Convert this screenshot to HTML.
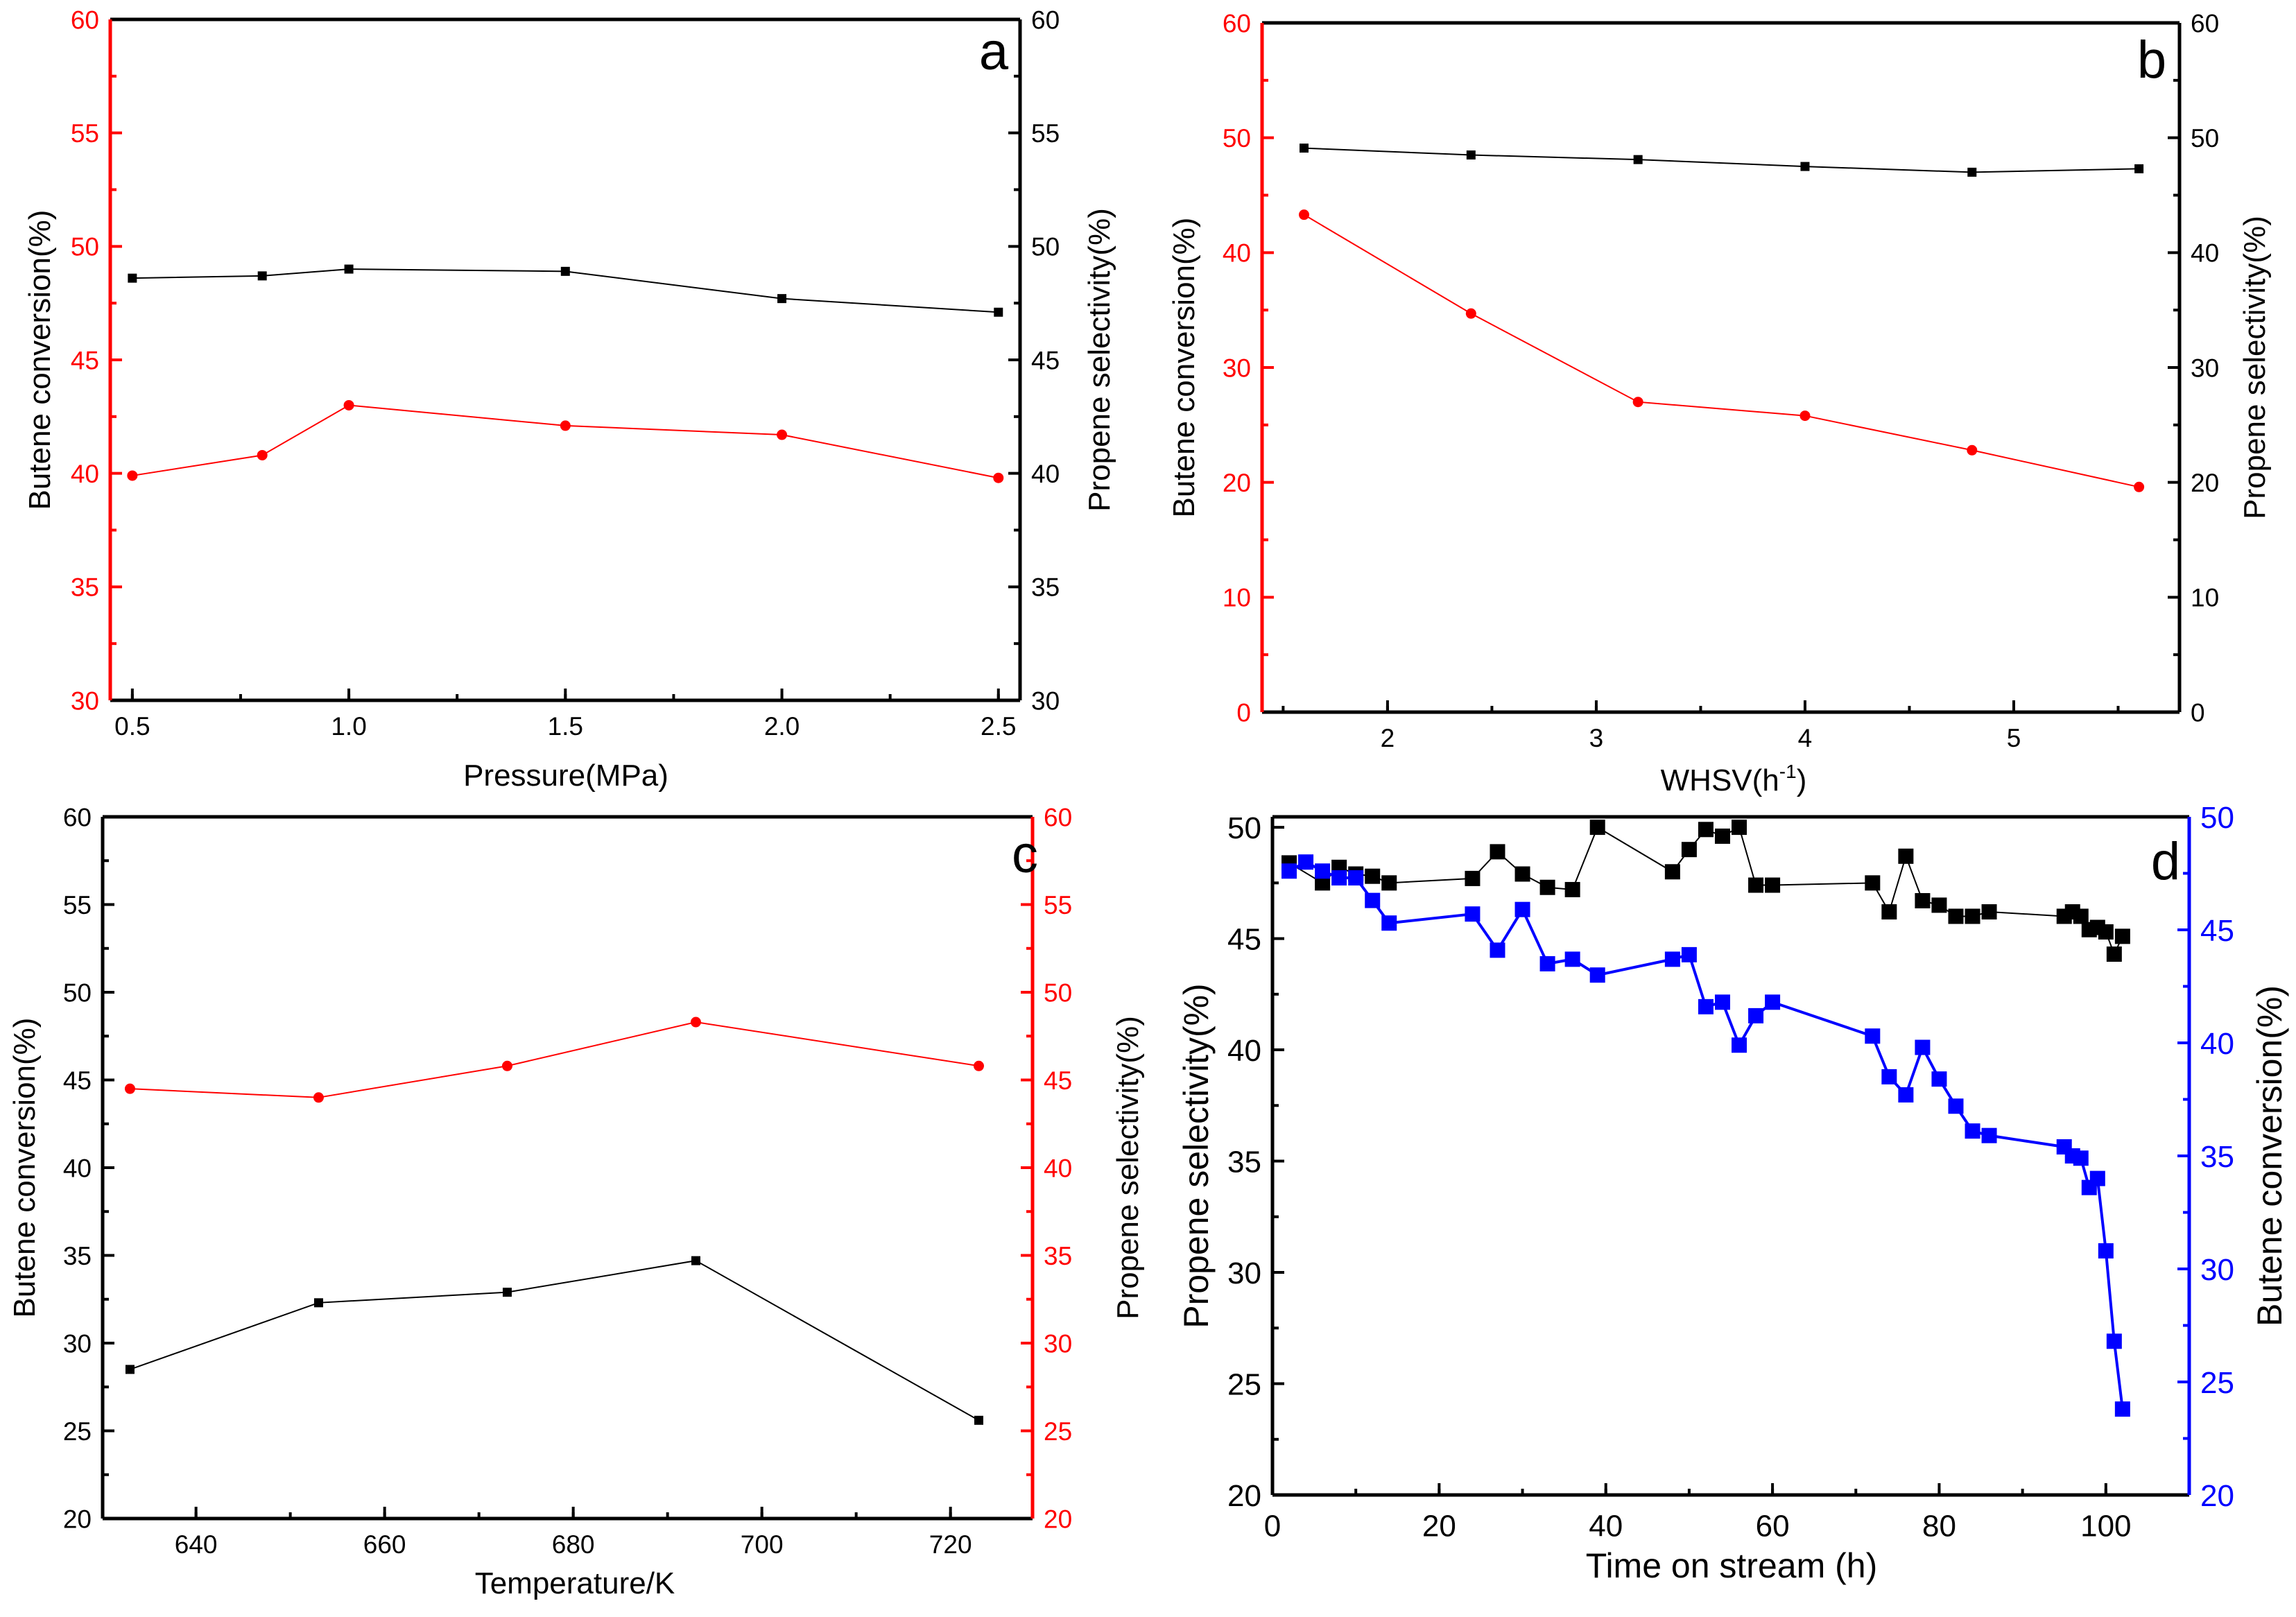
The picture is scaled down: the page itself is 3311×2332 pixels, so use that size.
<!DOCTYPE html>
<html><head><meta charset="utf-8"><style>
html,body{margin:0;padding:0;background:#fff;}
svg text{font-family:"Liberation Sans",sans-serif;}
</style></head><body>
<svg id="chart" xmlns="http://www.w3.org/2000/svg" width="3311" height="2327" viewBox="0 0 3311 2327">
<rect width="3311" height="2327" fill="#fff"/>
</svg>
<script>
// Panel a
const aPressure = [0.5, 0.8, 1.0, 1.5, 2.0, 2.5];
const aSelectivity = [48.6, 48.7, 49.0, 48.9, 47.7, 47.1];
const aConversion = [39.9, 40.8, 43.0, 42.1, 41.7, 39.8];
const aXTicks = ["0.5","1.0","1.5","2.0","2.5"];
const aYTicks = ["30","35","40","45","50","55","60"];
// Panel b
const bWhsv = [1.6, 2.4, 3.2, 4.0, 4.8, 5.6];
const bSelectivity = [49.1, 48.5, 48.1, 47.5, 47.0, 47.3];
const bConversion = [43.3, 34.7, 27.0, 25.8, 22.8, 19.6];
const bXTicks = ["2","3","4","5"];
const bYTicks = ["0","10","20","30","40","50","60"];
// Panel c
const cTemp = [633, 653, 673, 693, 723];
const cConversion = [28.5, 32.3, 32.9, 34.7, 25.6];
const cSelectivity = [44.5, 44.0, 45.8, 48.3, 45.8];
const cXTicks = ["640","660","680","700","720"];
const cYTicks = ["20","25","30","35","40","45","50","55","60"];
// Panel d
const dTimeSel = [2,6,8,10,12,14,24,27,30,33,36,39,48,50,52,54,56,58,60,72,74,76,78,80,82,84,86,95,96,97,98,99,100,101,102];
const dSelectivity = [48.4,47.5,48.2,47.9,47.8,47.5,47.7,48.9,47.9,47.3,47.2,50.0,48.0,49.0,49.9,49.6,50.0,47.4,47.4,47.5,46.2,48.7,46.7,46.5,46.0,46.0,46.2,46.0,46.2,46.0,45.4,45.5,45.3,44.3,45.1];
const dTimeConv = [2,4,6,8,10,12,14,24,27,30,33,36,39,48,50,52,54,56,58,60,72,74,76,78,80,82,84,86,95,96,97,98,99,100,101,102];
const dConversion = [47.6,48.0,47.6,47.3,47.3,46.3,45.3,45.7,44.1,45.9,43.5,43.7,43.0,43.7,43.9,41.6,41.8,39.9,41.2,41.8,40.3,38.5,37.7,39.8,38.4,37.2,36.1,35.9,35.4,35.0,34.9,33.6,34.0,30.8,26.8,23.8];
const dXTicks = ["0","20","40","60","80","100"];
const dYTicks = ["20","25","30","35","40","45","50"];

const NS = "http://www.w3.org/2000/svg";
const svg = document.getElementById("chart");
function el(tag, attrs, parent){
  const e = document.createElementNS(NS, tag);
  for (const k in attrs) e.setAttribute(k, attrs[k]);
  (parent||svg).appendChild(e);
  return e;
}
function txt(s, attrs, parent){ const t = el("text", attrs, parent); t.textContent = s; return t; }

function panel(p){
  const g = el("g", {});
  
  
  const sx = v => p.L + (v - p.xmin) / (p.xmax - p.xmin) * (p.R - p.L);
  const syL = v => p.B - (v - p.ylmin) / (p.ylmax - p.ylmin) * (p.B - p.T);
  const syR = v => p.B - (v - p.yrmin) / (p.yrmax - p.yrmin) * (p.B - p.T);
  const TL = 17, tl = 9, fs = p.fs || 37, tfs = p.tfs || 44;
  p.xTicks.forEach(s => {
    const v = parseFloat(s); const x = sx(v);
    el("line", {x1:x, x2:x, y1:p.B, y2:p.B-TL, stroke:"#000", "stroke-width":4}, g);
    const t = txt(s, {x:x, y:p.B+fs*1.35, "font-size":fs, "text-anchor":"middle", fill:"#000"}, g);
    
    
  });
  for (let v = p.xmin; v <= p.xmax + 1e-9; v += p.xMinor) {
    const vv = Math.round(v / p.xMinor) * p.xMinor;
    if (vv < p.xmin || vv > p.xmax) continue;
    const x = sx(vv);
    el("line", {x1:x, x2:x, y1:p.B, y2:p.B-tl, stroke:"#000", "stroke-width":4}, g);
  }
  p.yTicks.forEach(s => {
    const v = parseFloat(s);
    const yl = syL(v), yr = syR(v);
    el("line", {x1:p.L, x2:p.L+TL, y1:yl, y2:yl, stroke:p.lc, "stroke-width":4}, g);
    el("line", {x1:p.R, x2:p.R-TL, y1:yr, y2:yr, stroke:p.rc, "stroke-width":4}, g);
    const t1 = txt(s, {x:p.L-16, y:yl+fs*0.36, "font-size":fs, "text-anchor":"end", fill:p.lc}, g);
    
    
    const t2 = txt(s, {x:p.R+16, y:yr+fs*0.36, "font-size":fs, "text-anchor":"start", fill:p.rc}, g);
    
    
  });
  const ys = p.yTicks.map(parseFloat); const step = ys[1]-ys[0];
  for (let i = 0; i < ys.length - 1; i++) {
    const v = ys[i] + step/2;
    const yl = syL(v), yr = syR(v);
    el("line", {x1:p.L, x2:p.L+tl, y1:yl, y2:yl, stroke:p.lc, "stroke-width":4}, g);
    el("line", {x1:p.R, x2:p.R-tl, y1:yr, y2:yr, stroke:p.rc, "stroke-width":4}, g);
  }
  el("line", {x1:p.L, x2:p.R, y1:p.T, y2:p.T, stroke:"#000", "stroke-width":5}, g);
  el("line", {x1:p.L, x2:p.R, y1:p.B, y2:p.B, stroke:"#000", "stroke-width":5}, g);
  el("line", {x1:p.L, x2:p.L, y1:p.T, y2:p.B, stroke:p.lc, "stroke-width":5}, g);
  el("line", {x1:p.R, x2:p.R, y1:p.T, y2:p.B, stroke:p.rc, "stroke-width":5}, g);
  p.series.forEach(s => {
    const sy = s.axis === "L" ? syL : syR;
    const pts = s.x.map((xv, i) => sx(xv) + "," + sy(s.y[i])).join(" ");
    const pl = el("polyline", {points:pts, fill:"none", stroke:s.color, "stroke-width":s.lw}, g);
    
    
    s.x.forEach((xv, i) => {
      const cx = sx(xv), cy = sy(s.y[i]);
      let m;
      if (s.marker === "circle") m = el("circle", {cx:cx, cy:cy, r:s.size/2, fill:s.color}, g);
      else m = el("rect", {x:cx-s.size/2, y:cy-s.size/2, width:s.size, height:s.size, fill:s.color}, g);
      
      
    });
  });
  const xt = txt(p.xTitle, {x:p.xtx, y:p.xty, "font-size":tfs, "text-anchor":"middle", fill:"#000"}, g);
  
  
  if (p.sup) { const ts = el("tspan", {"font-size":28, dy:-18}, xt); ts.textContent = "-1"; const t3 = el("tspan", {dy:18}, xt); t3.textContent = ")"; }
  const cy = (p.T + p.B) / 2;
  const lt = txt(p.lTitle, {x:0, y:0, "font-size":tfs, "text-anchor":"middle", fill:"#000", transform:`translate(${p.ltx},${cy}) rotate(-90)`}, g);
  
  
  const rt = txt(p.rTitle, {x:0, y:0, "font-size":tfs, "text-anchor":"middle", fill:"#000", transform:`translate(${p.rtx},${cy}) rotate(-90)`}, g);
  
  
  const lab = txt(p.letter, {x:p.lx, y:p.ly, "font-size":76, "text-anchor":"middle", fill:"#000"}, g);
  
  
}

panel({name:"panel-a", L:159, R:1471, T:28, B:1010, xmin:0.449, xmax:2.55, xMinor:0.25,
  ylmin:30, ylmax:60, yrmin:30, yrmax:60, lc:"#f00", rc:"#000", xTicks:aXTicks, yTicks:aYTicks,
  series:[{name:"selectivity-a", x:aPressure, y:aSelectivity, axis:"L", color:"#000", marker:"square", size:13, lw:2},
          {name:"conversion-a", x:aPressure, y:aConversion, axis:"L", color:"#f00", marker:"circle", size:15, lw:2}],
  xTitle:"Pressure(MPa)", xtx:816, xty:1133, lTitle:"Butene conversion(%)", ltx:72, rTitle:"Propene selectivity(%)", rtx:1600,
  letter:"a", lx:1433, ly:100});
panel({name:"panel-b", L:1820, R:3143, T:33, B:1027, xmin:1.399, xmax:5.794, xMinor:0.5,
  ylmin:0, ylmax:60, yrmin:0, yrmax:60, lc:"#f00", rc:"#000", xTicks:bXTicks, yTicks:bYTicks,
  series:[{name:"selectivity-b", x:bWhsv, y:bSelectivity, axis:"L", color:"#000", marker:"square", size:13, lw:2},
          {name:"conversion-b", x:bWhsv, y:bConversion, axis:"L", color:"#f00", marker:"circle", size:15, lw:2}],
  xTitle:"WHSV(h", sup:true, xtx:2500, xty:1140, lTitle:"Butene conversion(%)", ltx:1722, rTitle:"Propene selectivity(%)", rtx:3266,
  letter:"b", lx:3103, ly:112});
panel({name:"panel-c", L:148, R:1489, T:1178, B:2190, xmin:630.1, xmax:728.7, xMinor:10,
  ylmin:20, ylmax:60, yrmin:20, yrmax:60, lc:"#000", rc:"#f00", xTicks:cXTicks, yTicks:cYTicks,
  series:[{name:"conversion-c", x:cTemp, y:cConversion, axis:"L", color:"#000", marker:"square", size:13, lw:2},
          {name:"selectivity-c", x:cTemp, y:cSelectivity, axis:"R", color:"#f00", marker:"circle", size:15, lw:2}],
  xTitle:"Temperature/K", xtx:829, xty:2298, lTitle:"Butene conversion(%)", ltx:50, rTitle:"Propene selectivity(%)", rtx:1641,
  letter:"c", lx:1478, ly:1258});
panel({name:"panel-d", L:1835, R:3157, T:1178, B:2156, xmin:0, xmax:110, xMinor:10, fs:44, tfs:50,
  ylmin:20, ylmax:50.47, yrmin:20, yrmax:50, lc:"#000", rc:"#00f", xTicks:dXTicks, yTicks:dYTicks,
  series:[{name:"selectivity-d", x:dTimeSel, y:dSelectivity, axis:"L", color:"#000", marker:"square", size:22, lw:2},
          {name:"conversion-d", x:dTimeConv, y:dConversion, axis:"R", color:"#00f", marker:"square", size:22, lw:4}],
  xTitle:"Time on stream (h)", xtx:2497, xty:2275, lTitle:"Propene selectivity(%)", ltx:1742, rTitle:"Butene conversion(%)", rtx:3290,
  letter:"d", lx:3123, ly:1268});
</script>
</body></html>
